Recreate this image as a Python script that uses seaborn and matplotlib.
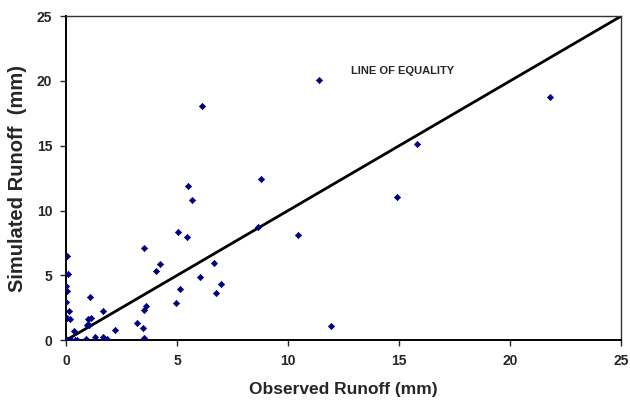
import matplotlib
matplotlib.use("Agg")
import matplotlib.pyplot as plt
import pandas as pd
import seaborn as sns

# observed vs simulated runoff (mm)
observed = [0.03, 0.1, 0.0, 0.05, 0.0, 0.12, 0.05, 0.18, 0.0, 0.2,
            0.35, 0.4, 0.5, 0.88, 1.07, 0.92, 1.03, 1.0, 1.1, 1.3,
            1.64, 1.82, 1.66, 2.2, 3.18, 3.5, 3.58, 3.5, 3.47, 3.5,
            4.04, 4.22, 4.96, 5.11, 5.04, 5.44, 5.47, 5.65, 6.02, 6.14,
            6.68, 6.77, 6.99, 8.78, 8.66, 10.43, 11.4, 11.91, 14.92, 15.8,
            21.8]
simulated = [6.5, 5.1, 4.2, 3.8, 2.95, 2.24, 1.7, 1.62, 0.05, 0.0,
             0.7, 0.0, 0.0, 0.08, 3.35, 1.2, 1.2, 1.62, 1.72, 0.26,
             0.26, 0.1, 2.24, 0.78, 1.3, 7.1, 2.65, 2.3, 0.95, 0.2,
             5.35, 5.84, 2.9, 3.96, 8.36, 7.92, 11.9, 10.83, 4.86, 18.08,
             5.92, 3.6, 4.32, 12.42, 8.74, 8.12, 20.08, 1.08, 11.03, 15.1,
             18.77]
equality = [0, 25]
ticks = [0, 5, 10, 15, 20, 25]

df = pd.DataFrame({'obs': observed, 'sim': simulated})
line = pd.DataFrame({'x': equality, 'y': equality})

sns.set_style('ticks')
plt.rcParams['font.family'] = ['Liberation Sans', 'DejaVu Sans']

fig, ax = plt.subplots(figsize=(6.3, 4.03), dpi=100)
fig.subplots_adjust(left=0.105, right=0.986, bottom=0.156, top=0.960)

sns.lineplot(data=line, x='x', y='y', ax=ax, color='black', linewidth=2)
sns.scatterplot(data=df, x='obs', y='sim', ax=ax, marker='D', s=10,
                color='#000080', edgecolor='#000080', linewidth=0.5, zorder=3)

ax.set_xlim(0, 25)
ax.set_ylim(0, 25)
ax.set_xticks(ticks)
ax.set_yticks(ticks)
ax.tick_params(axis='both', labelsize=10, direction='out', length=4, width=1, pad=6)
for lbl in ax.get_xticklabels() + ax.get_yticklabels():
    lbl.set_fontweight('bold')

ax.set_xlabel('Observed Runoff (mm)', fontsize=12.5, fontweight='bold', labelpad=10)
ax.set_ylabel('Simulated Runoff  (mm)', fontsize=14.5, fontweight='bold', labelpad=7)

ax.text(12.85, 20.75, 'LINE OF EQUALITY', fontsize=8, fontweight='bold', va='center')

for side in ['left', 'bottom']:
    ax.spines[side].set_linewidth(1.4)
    ax.spines[side].set_color('black')
for side in ['top', 'right']:
    ax.spines[side].set_visible(True)
    ax.spines[side].set_linewidth(1.0)
    ax.spines[side].set_color('#333333')

fig.savefig('out.png', dpi=100)
